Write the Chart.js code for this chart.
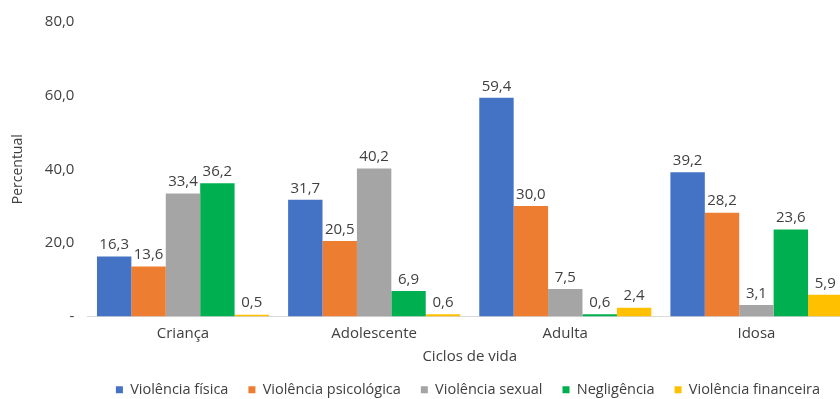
<!DOCTYPE html>
<html>
<head>
<meta charset="utf-8">
<script src="https://cdn.jsdelivr.net/npm/chart.js@4/dist/chart.umd.min.js"></script>
<style>
html,body{margin:0;padding:0;background:#fff;overflow:hidden;}
#wrap{width:840px;height:399px;overflow:hidden;position:relative;}
#inner{width:940px;height:399px;position:absolute;left:0;top:0;}
</style>
</head>
<body>
<div id="wrap"><div id="inner"><canvas id="c" width="940" height="399"></canvas></div></div>
<script>
const categories = ['Criança', 'Adolescente', 'Adulta', 'Idosa'];
const seriesNames = ['Violência física', 'Violência psicológica', 'Violência sexual', 'Negligência', 'Violência financeira'];
const violenciaFisica = [16.3, 31.7, 59.4, 39.2];
const violenciaPsicologica = [13.6, 20.5, 30.0, 28.2];
const violenciaSexual = [33.4, 40.2, 7.5, 3.1];
const negligencia = [36.2, 6.9, 0.6, 23.6];
const violenciaFinanceira = [0.5, 0.6, 2.4, 5.9];
const yTicks = [0, 20, 40, 60, 80];
const colors = ['#4472C4', '#ED7D31', '#A5A5A5', '#00B050', '#FFC000'];

const fmt = v => v.toFixed(1).replace('.', ',');
const FONT = '"Open Sans", Lato, sans-serif';
const TXT = '#404040';

const labelPlugin = {
  id: 'barLabels',
  afterDatasetsDraw(chart) {
    const ctx = chart.ctx;
    ctx.save();
    ctx.font = '15px ' + FONT;
    ctx.fillStyle = TXT;
    ctx.textAlign = 'center';
    ctx.textBaseline = 'bottom';
    chart.data.datasets.forEach((ds, i) => {
      const meta = chart.getDatasetMeta(i);
      meta.data.forEach((el, j) => {
        ctx.fillText(fmt(ds.data[j]), el.x, el.y - 4);
      });
    });
    ctx.restore();
  }
};

const legendShift = {
  id: 'legendShift',
  afterLayout(chart) {
    const lg = chart.legend;
    if (!lg) return;
    const d = 468 - (lg.left + lg.right) / 2;
    lg.left += d; lg.right += d;
  }
};

const seriesData = [violenciaFisica, violenciaPsicologica, violenciaSexual, negligencia, violenciaFinanceira];

new Chart(document.getElementById('c'), {
  type: 'bar',
  data: {
    labels: categories,
    datasets: seriesNames.map((n, i) => ({
      label: n,
      data: seriesData[i],
      backgroundColor: colors[i],
      borderWidth: 0,
      categoryPercentage: 0.9,
      barPercentage: 1.0
    }))
  },
  options: {
    responsive: false,
    animation: false,
    layout: { padding: { left: 6, right: 88, top: -15, bottom: -8 } },
    plugins: {
      legend: {
        position: 'bottom',
        labels: {
          font: { family: FONT, size: 14.5 },
          color: TXT,
          boxWidth: 7,
          boxHeight: 7,
          padding: 20
        }
      },
      tooltip: { enabled: false }
    },
    scales: {
      x: {
        grid: { display: false, drawTicks: false },
        border: { color: '#D9D9D9' },
        ticks: { font: { family: FONT, size: 15 }, color: TXT, padding: 8 },
        title: { display: true, text: 'Ciclos de vida', font: { family: FONT, size: 15 }, color: TXT, padding: { top: -3, bottom: -3 } }
      },
      y: {
        min: 0,
        max: 80,
        afterBuildTicks(axis) { axis.ticks = yTicks.map(v => ({ value: v })); },
        grid: { display: false, drawTicks: false },
        border: { display: false },
        ticks: {
          font: { family: FONT, size: 15 },
          color: TXT,
          padding: 13,
          callback: v => v === 0 ? '-' : fmt(v)
        },
        title: { display: true, text: 'Percentual', font: { family: FONT, size: 14 }, color: TXT, padding: { bottom: 5 } }
      }
    }
  },
  plugins: [labelPlugin, legendShift]
});
</script>
</body>
</html>
